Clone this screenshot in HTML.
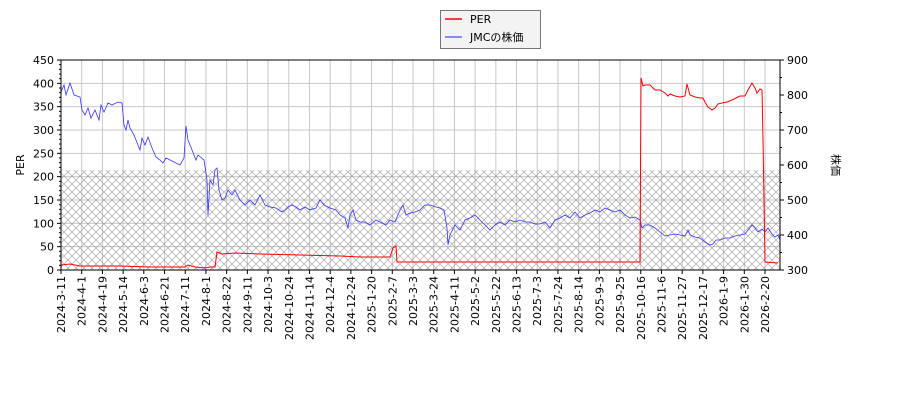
<!DOCTYPE html>
<html><head><meta charset="utf-8"><style>
body{margin:0;background:#fff}
svg{display:block;font-family:"DejaVu Sans","Liberation Sans","Noto Sans CJK JP",sans-serif}
</style></head><body>
<svg id="s" width="900" height="400" viewBox="0 0 900 400" xmlns="http://www.w3.org/2000/svg">
<defs>
<pattern id="h" width="8" height="8" patternUnits="userSpaceOnUse">
<path d="M0,0L8,8M8,0L0,8" stroke="#999" stroke-width="0.6"/>
</pattern>
</defs>
<rect x="61" y="60" width="719" height="210" fill="#fff"/>
<g id="grid"></g>
<rect x="61" y="170" width="719" height="100" fill="url(#h)"/>
<polyline fill="none" stroke="#3333ff" stroke-width="0.8" points="61,92 64,85 66,95 70,83 74,95 80,97 82,110 85,115 88,108 91,118 95,110 99,120 101,105 104,112 108,103 112,105 118,102 122,103 124,125 126,130 128,120 130,128 134,135 136,140 140,150 142,138 145,145 148,137 152,148 156,157 160,160 163,163 166,158 172,161 180,165 184,158 186,126 188,140 192,150 196,160 198,155 204,160 207,180 208,215 210,180 213,185 215,170 217,168 219,190 222,200 225,198 228,190 232,195 235,190 240,200 245,205 250,200 255,205 260,195 265,205 270,207 276,208 282,212 285,210 288,207 292,205 296,207 300,210 305,207 310,210 316,208 320,200 324,205 330,208 336,210 340,215 345,218 348,228 350,215 353,210 356,220 360,222 365,222 370,225 376,220 382,223 386,225 390,220 395,222 400,210 403,205 406,215 410,213 415,212 420,210 425,205 430,205 436,207 440,208 444,210 447,228 448,245 450,235 455,225 460,230 465,220 470,218 475,215 480,220 485,225 490,230 495,225 500,222 505,225 510,220 515,222 520,220 525,222 530,222 535,224 540,224 545,222 550,228 555,220 560,218 565,215 570,218 575,212 580,218 585,215 590,213 595,210 600,212 605,208 610,210 615,212 620,210 625,215 630,218 635,217 640,220 642,228 645,225 650,225 655,228 660,232 665,236 670,235 675,234 680,235 685,236 688,230 690,235 695,237 700,238 705,242 710,245 713,244 716,240 720,240 725,238 730,238 735,236 740,235 745,234 748,230 752,225 755,228 758,232 762,229 765,232 768,228 772,234 775,237 778,235 780,240"/>
<polyline fill="none" stroke="#ff0000" stroke-width="1" points="61,265 70,264 80,266 120,266 150,267 185,267 188,265 195,267 205,268 210,267 215,267 217,252 222,254 235,253 260,254 300,255 340,256 360,257 390,257 393,248 396,246 397,262 440,262 500,262 560,262 600,262 640,262 641,78 643,86 645,85 650,85 655,90 660,90 665,93 668,96 670,94 675,96 680,97 685,96 687,84 690,95 695,97 700,98 703,98 705,102 708,107 712,110 715,108 718,104 722,103 727,102 732,100 736,98 740,96 745,96 748,90 752,83 755,88 757,93 760,89 762,90 763,140 764,200 765,262 778,263"/>
<rect x="61" y="60" width="719" height="210" fill="none" stroke="#000" stroke-width="1"/>
<g id="ax" font-size="11" fill="#000"></g>
<text x="24" y="165" font-size="11" transform="rotate(-90 24 165)" text-anchor="middle">PER</text>
<text x="832" y="165" font-size="11" transform="rotate(90 832 165)" text-anchor="middle" font-family="Noto Sans CJK JP,sans-serif">株価</text>
<rect x="440.5" y="10.5" width="100" height="38" fill="#f3f3f3" stroke="#777"/>
<line x1="445" y1="19" x2="462" y2="19" stroke="#ff0000" stroke-width="1.5"/>
<line x1="445" y1="37" x2="462" y2="37" stroke="#6666ff" stroke-width="1.5"/>
<text x="470" y="23" font-size="11">PER</text>
<text x="470" y="41" font-size="11" font-family="DejaVu Sans,Noto Sans CJK JP,sans-serif">JMCの株価</text>
</svg>
<script>
var ns="http://www.w3.org/2000/svg",g=document.getElementById("grid"),ax=document.getElementById("ax");
function el(p,t,a){var e=document.createElementNS(ns,t);for(var k in a)e.setAttribute(k,a[k]);p.appendChild(e);return e;}
var labels=["2024-3-11","2024-4-1","2024-4-19","2024-5-14","2024-6-3","2024-6-21","2024-7-11","2024-8-1","2024-8-22","2024-9-11","2024-10-3","2024-10-24","2024-11-14","2024-12-4","2024-12-24","2025-1-20","2025-2-7","2025-3-3","2025-3-24","2025-4-11","2025-5-2","2025-5-22","2025-6-13","2025-7-3","2025-7-24","2025-8-14","2025-9-3","2025-9-25","2025-10-16","2025-11-6","2025-11-27","2025-12-17","2026-1-9","2026-1-30","2026-2-20"];
labels.forEach(function(l,i){var x=61+i*704/34;
el(g,"line",{x1:x,y1:60,x2:x,y2:270,stroke:"#c8c8c8","stroke-width":1});
el(ax,"line",{x1:x,y1:270,x2:x,y2:274,stroke:"#000"});
var t=el(ax,"text",{x:x+4,y:276,"text-anchor":"end",transform:"rotate(-90 "+(x+4)+" 276)"});t.textContent=l;});
for(var v=0;v<=450;v+=50){var y=270-v*210/450;
el(g,"line",{x1:61,y1:y,x2:780,y2:y,stroke:"#c8c8c8","stroke-width":1});
el(ax,"line",{x1:57,y1:y,x2:61,y2:y,stroke:"#000"});
var t=el(ax,"text",{x:54,y:y+4,"text-anchor":"end"});t.textContent=v;}
for(var v=10;v<450;v+=10){if(v%50)el(ax,"line",{x1:59,y1:270-v*210/450,x2:61,y2:270-v*210/450,stroke:"#000"});}
for(var v=300;v<=900;v+=100){var y=270-(v-300)*0.35;
el(ax,"line",{x1:780,y1:y,x2:784,y2:y,stroke:"#000"});
var t=el(ax,"text",{x:787,y:y+4});t.textContent=v;}
for(var v=350;v<900;v+=100){var y=270-(v-300)*0.35;el(ax,"line",{x1:780,y1:y,x2:782,y2:y,stroke:"#000"});}
</script>
</body></html>
